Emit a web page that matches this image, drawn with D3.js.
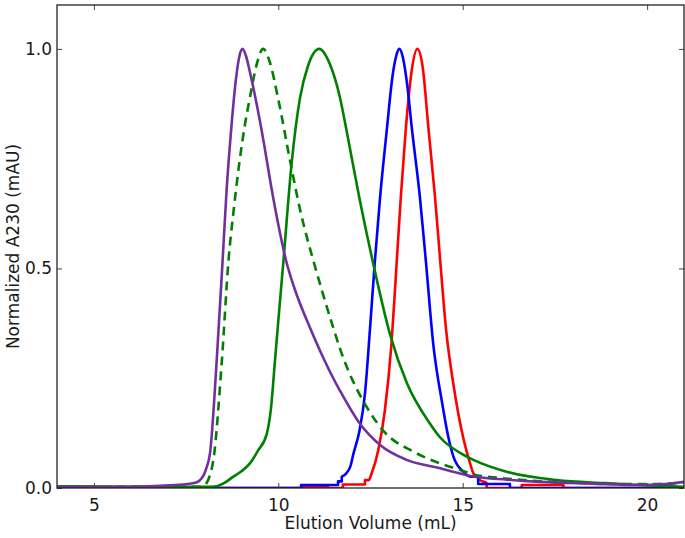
<!DOCTYPE html>
<html>
<head>
<meta charset="utf-8">
<script src="https://cdn.jsdelivr.net/npm/d3@7"></script>
<style>
  body { margin: 0; background: #fff; }
  svg text { font-family: "DejaVu Sans", sans-serif; fill: #1a1a1a; }
</style>
</head>
<body>
<div id="chart"></div>
<script>
// Elution volume (mL) / normalized absorbance pairs
const purpleVol = [4.0, 5.0, 6.0, 6.8, 7.4, 7.75, 7.85, 7.97, 8.05, 8.15, 8.33, 8.49, 8.6, 8.72, 8.85, 8.95, 9.03, 9.12, 9.25, 9.4, 9.6, 9.8, 10.0, 10.21, 10.5, 10.86, 11.2, 11.49, 11.67, 12.2, 12.76, 13.48, 14.39, 14.93, 15.29, 16.2, 17.1, 18.5, 19.8, 20.5, 21.0];
const purpleAbs = [0.002, 0.002, 0.003, 0.005, 0.008, 0.012, 0.016, 0.028, 0.045, 0.08, 0.29, 0.518, 0.68, 0.814, 0.93, 0.985, 1.0, 0.985, 0.94, 0.88, 0.79, 0.69, 0.6, 0.518, 0.44, 0.365, 0.3, 0.25, 0.222, 0.148, 0.098, 0.064, 0.045, 0.033, 0.026, 0.019, 0.014, 0.01, 0.007, 0.009, 0.014];

const dashVol = [4.0, 6.0, 7.9, 8.0, 8.06, 8.15, 8.24, 8.47, 8.65, 8.8, 8.94, 9.1, 9.23, 9.4, 9.59, 9.75, 10.0, 10.32, 10.6, 10.95, 11.2, 11.49, 11.67, 12.13, 12.31, 12.85, 13.66, 14.39, 14.93, 15.29, 16.0, 17.0, 18.0, 19.0, 20.0, 21.0];
const dashAbs = [0.003, 0.003, 0.003, 0.006, 0.012, 0.03, 0.064, 0.29, 0.518, 0.64, 0.738, 0.83, 0.889, 0.96, 1.0, 0.975, 0.885, 0.745, 0.63, 0.518, 0.445, 0.365, 0.318, 0.225, 0.197, 0.13, 0.083, 0.056, 0.041, 0.031, 0.023, 0.016, 0.012, 0.009, 0.009, 0.012];

const greenVol = [4.0, 6.0, 7.5, 8.2, 8.33, 8.55, 8.78, 9.0, 9.23, 9.45, 9.69, 9.8, 9.91, 10.0, 10.14, 10.36, 10.59, 10.8, 11.11, 11.4, 11.67, 11.86, 12.2, 12.55, 13.03, 13.48, 14.11, 14.39, 14.93, 15.29, 16.19, 17.55, 18.9, 20.0, 21.0];
const greenAbs = [0.004, 0.003, 0.003, 0.003, 0.004, 0.012, 0.026, 0.038, 0.056, 0.085, 0.124, 0.18, 0.29, 0.38, 0.518, 0.738, 0.889, 0.96, 1.0, 0.965, 0.89, 0.81, 0.66, 0.52, 0.35, 0.24, 0.147, 0.115, 0.08, 0.064, 0.037, 0.018, 0.011, 0.006, 0.003];

const blueVol = [4.0, 10.62, 10.62, 11.62, 11.62, 11.72, 11.72, 11.8, 11.95, 12.04, 12.2, 12.35, 12.49, 12.62, 12.76, 12.94, 13.1, 13.2, 13.28, 13.38, 13.5, 13.62, 13.84, 14.0, 14.2, 14.45, 14.6, 14.75, 15.02, 15.2, 15.42, 15.42, 16.28, 16.28, 21.0];
const blueAbs = [0, 0, 0.007, 0.007, 0.015, 0.015, 0.025, 0.03, 0.048, 0.079, 0.13, 0.215, 0.367, 0.518, 0.662, 0.814, 0.94, 0.985, 1.0, 0.98, 0.915, 0.82, 0.662, 0.518, 0.329, 0.19, 0.12, 0.071, 0.037, 0.026, 0.026, 0.009, 0.009, 0, 0];

const redVol = [4.0, 10.65, 10.65, 11.35, 11.35, 11.75, 11.75, 12.35, 12.35, 12.45, 12.53, 12.71, 12.89, 13.07, 13.2, 13.32, 13.45, 13.6, 13.77, 13.92, 14.07, 14.25, 14.39, 14.55, 14.75, 15.02, 15.2, 15.29, 15.4, 15.47, 15.65, 15.65, 16.6, 16.6, 17.73, 17.73, 21.0];
const redAbs = [0, 0, 0.002, 0.002, 0, 0, 0.008, 0.008, 0.018, 0.018, 0.033, 0.086, 0.177, 0.33, 0.5, 0.66, 0.81, 0.94, 1.0, 0.955, 0.82, 0.662, 0.518, 0.36, 0.235, 0.112, 0.056, 0.033, 0.025, 0.018, 0.011, 0, 0, 0.007, 0.007, 0, 0];

const xTicks = [5, 10, 15, 20];
const yTicks = [0.0, 0.5, 1.0];

const zip = (xs, ys) => xs.map((v, i) => ({vol: v, abs: ys[i]}));

const series = [
  {name: 'red', data: zip(redVol, redAbs), color: '#ff0000', dash: null},
  {name: 'blue', data: zip(blueVol, blueAbs), color: '#0000ff', dash: null},
  {name: 'green', data: zip(greenVol, greenAbs), color: '#008000', dash: null},
  {name: 'greenDashed', data: zip(dashVol, dashAbs), color: '#008000', dash: '9,6'},
  {name: 'purple', data: zip(purpleVol, purpleAbs), color: '#7030a0', dash: null}
];

const W = 685, H = 538;
const margin = {top: 5, right: 1, bottom: 50, left: 57};
const width = W - margin.left - margin.right;
const height = H - margin.top - margin.bottom;

const svg = d3.select('#chart')
  .append('svg')
    .attr('width', W)
    .attr('height', H);

const g = svg.append('g')
  .attr('transform', `translate(${margin.left},${margin.top})`);

const x = d3.scaleLinear().domain([4, 21]).range([0, width]);
const y = d3.scaleLinear().domain([0, 1.1]).range([height, 0]);

g.append('clipPath').attr('id', 'clip')
  .append('rect').attr('width', width).attr('height', height);

const plot = g.append('g').attr('clip-path', 'url(#clip)');

// monotoneX copes with the vertical steps (equal x) in the blue/red traces
const line = d3.line()
  .x(d => x(d.vol))
  .y(d => y(d.abs))
  .curve(d3.curveMonotoneX);

series.forEach(s => {
  plot.append('path')
    .datum(s.data)
    .attr('fill', 'none')
    .attr('stroke', s.color)
    .attr('stroke-width', 2.6)
    .attr('stroke-linejoin', 'round')
    .attr('stroke-dasharray', s.dash)
    .attr('d', line);
});

// Axes, ticks inward on all four sides
const tickLen = 5;
const axisStyle = sel => {
  sel.select('.domain').remove();
  sel.selectAll('.tick line').attr('stroke', '#444').attr('stroke-width', 1);
  sel.selectAll('.tick text').style('font-size', '17px');
};

g.append('g')
  .attr('transform', `translate(0,${height})`)
  .call(d3.axisBottom(x).tickValues(xTicks).tickSizeInner(-tickLen).tickPadding(11).tickFormat(d3.format('d')))
  .call(axisStyle);

g.append('g')
  .call(d3.axisTop(x).tickValues(xTicks).tickSizeInner(-tickLen).tickFormat(''))
  .call(axisStyle);

g.append('g')
  .call(d3.axisLeft(y).tickValues(yTicks).tickSizeInner(-tickLen).tickPadding(5).tickFormat(d3.format('.1f')))
  .call(axisStyle);

g.append('g')
  .attr('transform', `translate(${width},0)`)
  .call(d3.axisRight(y).tickValues(yTicks).tickSizeInner(-tickLen).tickFormat(''))
  .call(axisStyle);

g.append('rect')
  .attr('width', width)
  .attr('height', height)
  .attr('fill', 'none')
  .attr('stroke', '#222')
  .attr('stroke-width', 1.3);

// Axis labels
svg.append('text')
  .attr('x', margin.left + width / 2)
  .attr('y', 529)
  .attr('text-anchor', 'middle')
  .style('font-size', '17px')
  .text('Elution Volume (mL)');

svg.append('text')
  .attr('transform', `translate(19,${margin.top + height / 2}) rotate(-90)`)
  .attr('text-anchor', 'middle')
  .style('font-size', '17px')
  .text('Normalized A230 (mAU)');
</script>
</body>
</html>
